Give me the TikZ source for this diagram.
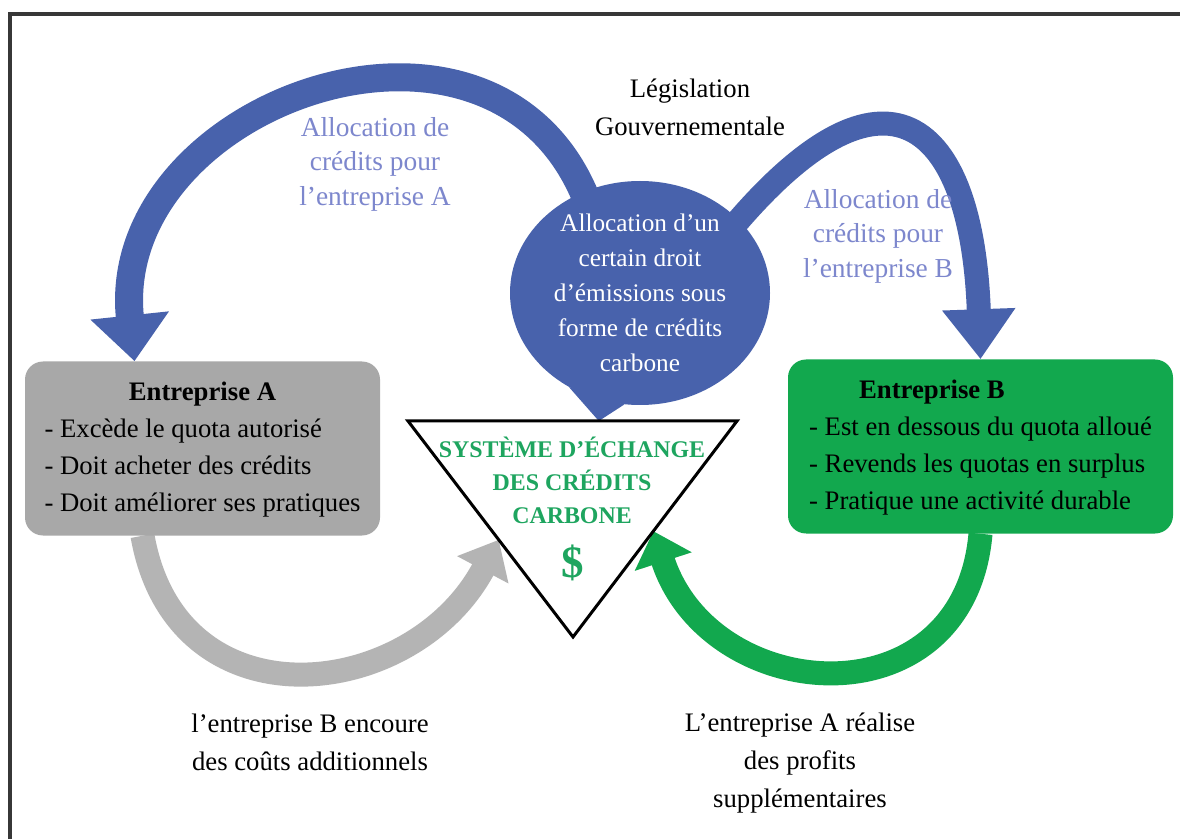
\documentclass[tikz,border=0pt]{standalone}
\usepackage{fontspec}
\setmainfont{Liberation Serif}
\usetikzlibrary{calc,arrows.meta,shapes.geometric}

\definecolor{bleu}{RGB}{72,98,172}
\definecolor{bleuclair}{RGB}{125,135,205}
\definecolor{gris}{RGB}{168,168,168}
\definecolor{grisfleche}{RGB}{180,180,180}
\definecolor{vert}{RGB}{18,168,78}
\definecolor{vertfonce}{RGB}{30,165,95}
\definecolor{cadre}{RGB}{55,55,55}

\pgfdeclarelayer{fond}
\pgfsetlayers{fond,main}

\tikzset{
	boite/.style={rectangle, rounded corners=0.45cm, minimum width=#1, minimum height=4.35cm, inner sep=0pt, font=\fontsize{19}{26.5}\selectfont},
	legende/.style={align=center, font=\fontsize{19}{27}\selectfont},
	bleue/.style={legende, text=bleuclair, font=\fontsize{19.5}{24.5}\selectfont},
}

\begin{document}
\begin{tikzpicture}
			%%%%% START %%%%%
			\useasboundingbox (0,0) rectangle (29.5,20.975);
			
			\draw[line width=0.1cm, color=cadre] (0.25,0) -- (0.25,20.625) -- (29.5,20.625);
			
			\node[legende] (legis) at (17.25,18.3) {Législation\\Gouvernementale};
			\node[bleue] (allocA) at (9.375,16.875) {Allocation de\\crédits pour\\l'entreprise A};
			\node[bleue] (allocB) at (21.95,15.075) {Allocation de\\crédits pour\\l'entreprise B};
			
			\node[ellipse, fill=bleu, minimum width=6.5cm, minimum height=5cm, inner sep=0pt, text=white, align=center, font=\fontsize{18}{25}\selectfont] (bulle) at (16,13.65) {Allocation d'un\\certain droit\\d'émissions sous\\forme de crédits\\carbone};
			
			\node[boite=8.875cm, fill=gris] (entA) at (5.0625,9.7625) {\begin{tabular}{@{}l@{}}\multicolumn{1}{@{}c@{}}{\textbf{Entreprise A}}\\- Excède le quota autorisé\\- Doit acheter des crédits\\- Doit améliorer ses pratiques\end{tabular}};
			\node[boite=9.625cm, fill=vert] (entB) at (24.5125,9.8125) {\begin{tabular}{@{}l@{}}\hspace*{1.25cm}\textbf{Entreprise B}\\- Est en dessous du quota alloué\\- Revends les quotas en surplus\\- Pratique une activité durable\end{tabular}};
			
			\coordinate (triG) at (10.2,10.45);
			\coordinate (triD) at (18.425,10.45);
			\coordinate (triB) at (14.325,5.05);
			\coordinate (queue) at ($(triG)!0.58!(triD)$);
			\coordinate (triGm) at ($(triG)!0.55!(triB)$);
			\coordinate (triDm) at ($(triD)!0.51!(triB)$);
			
			\begin{pgfonlayer}{fond}
			\fill[white] (0,0) rectangle (29.5,20.975);
			\fill[bleu] (bulle.233) -- (queue) -- (bulle.262) -- cycle;
			
			\draw[line width=0.7cm, color=bleu, -{Triangle[width=1.9cm,length=1.15cm]}] ($(bulle.center)!0.9!(bulle.120)$) .. controls +(111:6.4) and +(96:6.5) .. ([xshift=-1.7cm]entA.north);
			\draw[line width=0.6cm, color=bleu, -{Triangle[width=1.75cm,length=1.25cm]}] ($(bulle.center)!0.9!(bulle.35)$) .. controls +(50:6) and +(92:6) .. (entB.north);
			
			\draw[line width=0.6cm, color=grisfleche, -{Triangle[width=1.4cm,length=0.85cm]}] ([xshift=-1.5cm]entA.south) .. controls +(-80:4.9) and +(242:4.6) .. (triGm);
			\draw[line width=0.6cm, color=vert, -{Triangle[width=1.45cm,length=0.8cm]}] (entB.south) .. controls +(-95:4.8) and +(-72:4.6) .. (triDm);
			\end{pgfonlayer}
			
			\draw[line width=0.075cm, fill=white] (triG) -- (triD) -- (triB) -- cycle;
			\node[align=center, text=vertfonce, font=\bfseries\fontsize{17}{23.5}\selectfont] (sceq) at (14.3,8.975) {SYSTÈME D'ÉCHANGE\\DES CRÉDITS\\CARBONE};
			\node[text=vertfonce, font=\bfseries\fontsize{32}{32}\selectfont] (dollar) at (14.325,6.9) {\$};
			
			\node[legende] (coutsB) at (7.75,2.425) {l'entreprise B encoure\\des coûts additionnels};
			\node[legende] (profitsA) at (20,1.9) {L'entreprise A réalise\\des profits\\supplémentaires};
			
			%%%%% END %%%%%
\end{tikzpicture}
\end{document}
